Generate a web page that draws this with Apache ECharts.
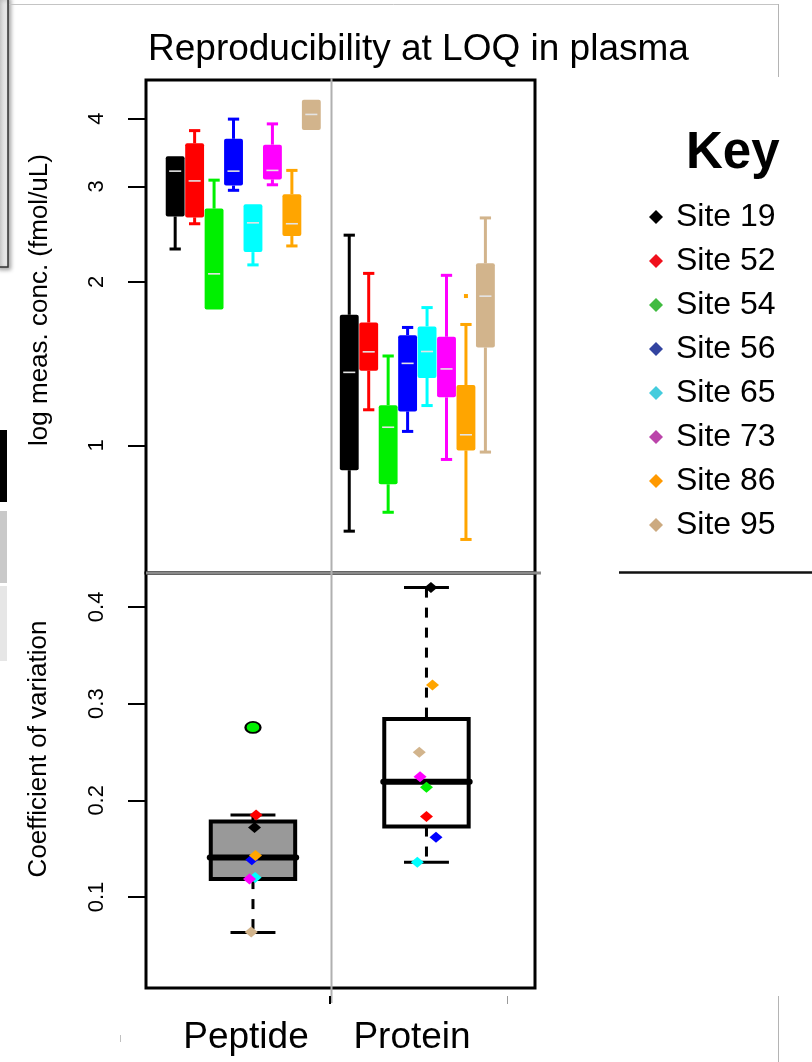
<!DOCTYPE html>
<html><head><meta charset="utf-8">
<script src="https://cdn.jsdelivr.net/npm/echarts@6/dist/echarts.min.js"></script>
<style>html,body{margin:0;padding:0;background:#fff}#c{width:812px;height:1062px}</style>
</head><body><div id="c"></div>
<script>
// ---------- data ----------
const sites = ['Site 19','Site 52','Site 54','Site 56','Site 65','Site 73','Site 86','Site 95'];
const groups = ['Peptide','Protein'];
const plotColors = ['#000000','#ff0000','#00f000','#0000ff','#00ffff','#ff00ff','#ffa500','#d2b48c'];
const keyColors  = ['#000000','#f0101c','#40bb40','#3344a0','#44ccdd','#bb44aa','#ff9900','#ccaa80'];
// per site: [min, Q1, median, Q3, max]  (fmol/uL)
const peptideConc = [
  [2.30,2.64,3.20,3.41,3.41],
  [2.56,2.63,3.07,3.60,3.80],
  [1.78,1.78,2.07,2.73,3.08],
  [2.95,3.01,3.20,3.67,3.99],
  [2.15,2.27,2.57,2.78,2.78],
  [3.02,3.09,3.21,3.58,3.91],
  [2.33,2.43,2.56,2.90,3.21],
  [3.81,3.81,4.07,4.33,4.33]
];
const proteinConc = [
  [0.695,0.900,1.363,1.740,2.439],
  [1.163,1.373,1.487,1.684,2.074],
  [0.753,0.848,1.080,1.186,1.461],
  [1.061,1.155,1.416,1.596,1.649],
  [1.184,1.331,1.489,1.656,1.794],
  [0.942,1.226,1.383,1.585,2.057],
  [0.671,0.979,1.046,1.292,1.670],
  [0.972,1.515,1.883,2.164,2.624]
];
// [group, site, value]
const concOutliers = [[1, 6, 1.884]];
const concTicks = [1, 2, 3, 4];
const cvTicks = [0.1, 0.2, 0.3, 0.4];
// CV boxplot per group: [min, Q1, median, Q3, max]
const cvBox = [
  [0.0635, 0.1186, 0.1409, 0.1780, 0.1849],
  [0.1361, 0.1729, 0.2193, 0.2840, 0.4199]
];
const cvPeptide = [0.1718, 0.1849, 0.2754, 0.1385, 0.1202, 0.1186, 0.1429, 0.0639];
const cvProtein = [0.4199, 0.1832, 0.2135, 0.1619, 0.1361, 0.2245, 0.3191, 0.2496];
const cvJitterPeptide = [0.08, 0.16, 0.00, -0.06, 0.11, -0.18, 0.13, -0.09];
const cvJitterProtein = [0.23, 0.00, 0.00, 0.49, -0.47, -0.33, 0.31, -0.37];

// ---------- layout helpers ----------
const FONT = "'Liberation Sans', Arial, Helvetica, sans-serif";
const concStart = [1.5, 10.45];   // slot of first site in each group
const cvCenter = [5.5, 14.42];    // slot of each group's CV box
const L = Math.log10;

const concData = [];
[peptideConc, proteinConc].forEach((arr, g) => {
  arr.forEach((st, i) => {
    concData.push({ value: [concStart[g] + i, L(st[0]), L(st[1]), L(st[2]), L(st[3]), L(st[4]), i] });
  });
});
const cvData = cvBox.map((st, g) => ({ value: [cvCenter[g], st[0], st[1], st[2], st[3], st[4], g] }));

function renderConc(params, api) {
  const x = api.value(0);
  const color = plotColors[api.value(6)];
  const unit = api.size([1, 0])[0];
  const bw = unit * 0.97, cw = unit * 0.58, mw = unit * 0.62;
  const pMin = api.coord([x, api.value(1)]);
  const pQ1 = api.coord([x, api.value(2)]);
  const pMed = api.coord([x, api.value(3)]);
  const pQ3 = api.coord([x, api.value(4)]);
  const pMax = api.coord([x, api.value(5)]);
  const cx = pMed[0];
  const ch = [];
  const ls = { stroke: color, lineWidth: 3 };
  if (pMin[1] - pQ1[1] > 1) {
    ch.push({ type: 'line', shape: { x1: cx, y1: pQ1[1], x2: cx, y2: pMin[1] }, style: ls });
    ch.push({ type: 'line', shape: { x1: cx - cw / 2, y1: pMin[1], x2: cx + cw / 2, y2: pMin[1] }, style: ls });
  }
  if (pQ3[1] - pMax[1] > 1) {
    ch.push({ type: 'line', shape: { x1: cx, y1: pQ3[1], x2: cx, y2: pMax[1] }, style: ls });
    ch.push({ type: 'line', shape: { x1: cx - cw / 2, y1: pMax[1], x2: cx + cw / 2, y2: pMax[1] }, style: ls });
  }
  ch.push({ type: 'rect', shape: { x: cx - bw / 2, y: pQ3[1], width: bw, height: pQ1[1] - pQ3[1], r: 2 }, style: { fill: color } });
  ch.push({ type: 'line', shape: { x1: cx - mw / 2, y1: pMed[1], x2: cx + mw / 2, y2: pMed[1] }, style: { stroke: '#e4e4e4', lineWidth: 1.6 } });
  return { type: 'group', children: ch };
}

const cvFills = ['#999999', '#ffffff'];
function renderCv(params, api) {
  const x = api.value(0);
  const fill = cvFills[api.value(6)];
  const unit = api.size([1, 0])[0];
  const bw = unit * 4.34, cw = unit * 2.31;
  const pMin = api.coord([x, api.value(1)]);
  const pQ1 = api.coord([x, api.value(2)]);
  const pMed = api.coord([x, api.value(3)]);
  const pQ3 = api.coord([x, api.value(4)]);
  const pMax = api.coord([x, api.value(5)]);
  const cx = pMed[0];
  const dash = { stroke: '#000', lineWidth: 3, lineDash: [10, 10] };
  const cap = { stroke: '#000', lineWidth: 3 };
  return { type: 'group', children: [
    { type: 'line', shape: { x1: cx, y1: pMax[1], x2: cx, y2: pQ3[1] }, style: dash },
    { type: 'line', shape: { x1: cx, y1: pQ1[1], x2: cx, y2: pMin[1] }, style: dash },
    { type: 'line', shape: { x1: cx - cw / 2, y1: pMax[1], x2: cx + cw / 2, y2: pMax[1] }, style: cap },
    { type: 'line', shape: { x1: cx - cw / 2, y1: pMin[1], x2: cx + cw / 2, y2: pMin[1] }, style: cap },
    { type: 'rect', shape: { x: cx - bw / 2, y: pQ3[1], width: bw, height: pQ1[1] - pQ3[1] }, style: { fill: fill, stroke: '#000', lineWidth: 4 } },
    { type: 'line', shape: { x1: cx - bw / 2 - 1, y1: pMed[1], x2: cx + bw / 2 + 1, y2: pMed[1] }, style: { stroke: '#000', lineWidth: 6, lineCap: 'round' } }
  ]};
}

const tol = 0.005;
const siteSeries = sites.map((s, i) => ({
  name: s, type: 'scatter', xAxisIndex: 1, yAxisIndex: 1, z: 5,
  symbol: 'diamond', symbolSize: [13, 11],
  itemStyle: { color: plotColors[i], opacity: 1 },
  data: [0, 1].map(g => {
    const v = g ? cvProtein[i] : cvPeptide[i];
    const j = g ? cvJitterProtein[i] : cvJitterPeptide[i];
    const item = { value: [cvCenter[g] + j, v] };
    if (v > cvBox[g][4] + tol || v < cvBox[g][0] - tol) {
      item.symbol = 'circle';
      item.symbolSize = [15, 11];
      item.itemStyle = { color: plotColors[i], borderColor: '#000', borderWidth: 2 };
    }
    return item;
  })
}));

const yLabel = (extra) => Object.assign({ rotate: 90, margin: 38, fontSize: 22, color: '#000', fontFamily: FONT }, extra);

const option = {
  animation: false,
  backgroundColor: '#fff',
  title: [
    { text: 'Reproducibility at LOQ in plasma', left: 148, top: 31, padding: 0,
      textStyle: { fontSize: 37, fontWeight: 'normal', color: '#000', fontFamily: FONT } },
    { text: 'Key', left: 686, top: 128, padding: 0,
      textStyle: { fontSize: 51, fontWeight: 'bold', color: '#000', fontFamily: FONT } }
  ],
  legend: {
    orient: 'vertical', left: 649, top: 201, padding: 0, itemGap: 12,
    itemWidth: 14, itemHeight: 14, icon: 'diamond', selectedMode: false,
    textStyle: { fontSize: 32, color: '#000', fontFamily: FONT, padding: [0, 0, 0, 8] },
    data: sites.map((s, i) => ({ name: s, icon: 'diamond', itemStyle: { color: keyColors[i], opacity: 1 } }))
  },
  grid: [
    { left: 146, top: 80, width: 389, height: 493, show: true, borderColor: '#000', borderWidth: 3, backgroundColor: 'transparent' },
    { left: 146, top: 573, width: 389, height: 415, show: true, borderColor: '#000', borderWidth: 3, backgroundColor: 'transparent' }
  ],
  xAxis: [
    { gridIndex: 0, type: 'value', min: 0, max: 20, show: false },
    { gridIndex: 1, type: 'value', min: 0, max: 20, show: false }
  ],
  yAxis: [
    { gridIndex: 0, type: 'value', min: L(0.582), max: L(4.71),
      axisLine: { show: false }, splitLine: { show: false },
      axisTick: { show: true, length: 18, lineStyle: { color: '#000', width: 2 }, customValues: concTicks.map(L) },
      axisLabel: yLabel({ customValues: concTicks.map(L), formatter: v => String(Math.round(Math.pow(10, v))) }) },
    { gridIndex: 1, type: 'value', min: 0.006, max: 0.435,
      axisLine: { show: false }, splitLine: { show: false },
      axisTick: { show: true, length: 18, lineStyle: { color: '#000', width: 2 }, customValues: cvTicks },
      axisLabel: yLabel({ customValues: cvTicks, formatter: v => v.toFixed(1) }) }
  ],
  series: [
    { type: 'custom', xAxisIndex: 0, yAxisIndex: 0, z: 2, renderItem: renderConc,
      encode: { x: 0, y: [1, 2, 3, 4, 5] }, data: concData },
    { type: 'scatter', name: 'outliers', xAxisIndex: 0, yAxisIndex: 0, z: 3, symbol: 'rect', symbolSize: 4,
      data: concOutliers.map(([g, s, v]) => ({ value: [concStart[g] + s, L(v)], itemStyle: { color: plotColors[s], opacity: 1 } })) },
    { type: 'custom', xAxisIndex: 1, yAxisIndex: 1, z: 2, renderItem: renderCv,
      encode: { x: 0, y: [1, 2, 3, 4, 5] }, data: cvData }
  ].concat(siteSeries),
  graphic: [
    // frame decorations
    { type: 'rect', z: 50, shape: { x: -3, y: -3, width: 11, height: 270 },
      style: { fill: new echarts.graphic.LinearGradient(0, 0, 1, 0, [{ offset: 0, color: '#cfcfcf' }, { offset: 1, color: '#f2f2f2' }]),
               stroke: '#333', lineWidth: 1.5, shadowBlur: 4, shadowColor: 'rgba(0,0,0,0.35)', shadowOffsetX: 2, shadowOffsetY: 2 } },
    { type: 'line', z: 50, shape: { x1: 9, y1: 4.5, x2: 778.5, y2: 4.5 }, style: { stroke: '#c4c4c4', lineWidth: 1 } },
    { type: 'line', z: 50, shape: { x1: 778.5, y1: 4, x2: 778.5, y2: 77 }, style: { stroke: '#b4b4b4', lineWidth: 1 } },
    { type: 'line', z: 50, shape: { x1: 778.5, y1: 996, x2: 778.5, y2: 1062 }, style: { stroke: '#b4b4b4', lineWidth: 1 } },
    { type: 'rect', z: 50, shape: { x: 0, y: 430, width: 7, height: 72 }, style: { fill: '#000' } },
    { type: 'rect', z: 50, shape: { x: 0, y: 511, width: 7, height: 72 }, style: { fill: '#c9c9c9' } },
    { type: 'rect', z: 50, shape: { x: 0, y: 586, width: 7, height: 75 }, style: { fill: '#e6e6e6' } },
    { type: 'line', z: 50, shape: { x1: 619, y1: 572.5, x2: 812, y2: 572.5 }, style: { stroke: '#111', lineWidth: 2.5 } },
    // panel separators
    { type: 'line', z: 60, shape: { x1: 146, y1: 573, x2: 541, y2: 573 }, style: { stroke: '#8a8a8a', lineWidth: 3 } },
    { type: 'line', z: 61, shape: { x1: 331.5, y1: 78, x2: 331.5, y2: 1003 }, style: { stroke: '#b0b0b0', lineWidth: 2 } },
    { type: 'line', z: 62, shape: { x1: 330, y1: 996, x2: 330, y2: 1004 }, style: { stroke: '#000', lineWidth: 2 } },
    { type: 'line', z: 62, shape: { x1: 507.5, y1: 996, x2: 507.5, y2: 1004 }, style: { stroke: '#9a9a9a', lineWidth: 1 } },
    { type: 'line', z: 62, shape: { x1: 120.5, y1: 1035, x2: 120.5, y2: 1042 }, style: { stroke: '#c0c0c0', lineWidth: 1 } },
    // axis titles
    { type: 'text', z: 70, x: 40, y: 300, rotation: Math.PI / 2,
      style: { text: 'log meas. conc. (fmol/uL)', font: '26px ' + FONT, fill: '#000', textAlign: 'center', textVerticalAlign: 'middle' } },
    { type: 'text', z: 70, x: 39, y: 749, rotation: Math.PI / 2,
      style: { text: 'Coefficient of variation', font: '26px ' + FONT, fill: '#000', textAlign: 'center', textVerticalAlign: 'middle' } },
    // group labels
    { type: 'text', z: 70, x: 246, y: 1038,
      style: { text: groups[0], font: '37px ' + FONT, fill: '#000', textAlign: 'center', textVerticalAlign: 'middle' } },
    { type: 'text', z: 70, x: 412, y: 1038,
      style: { text: groups[1], font: '37px ' + FONT, fill: '#000', textAlign: 'center', textVerticalAlign: 'middle' } }
  ]
};

const chart = echarts.init(document.getElementById('c'), null, { renderer: 'canvas' });
chart.setOption(option);
</script>
</body></html>
